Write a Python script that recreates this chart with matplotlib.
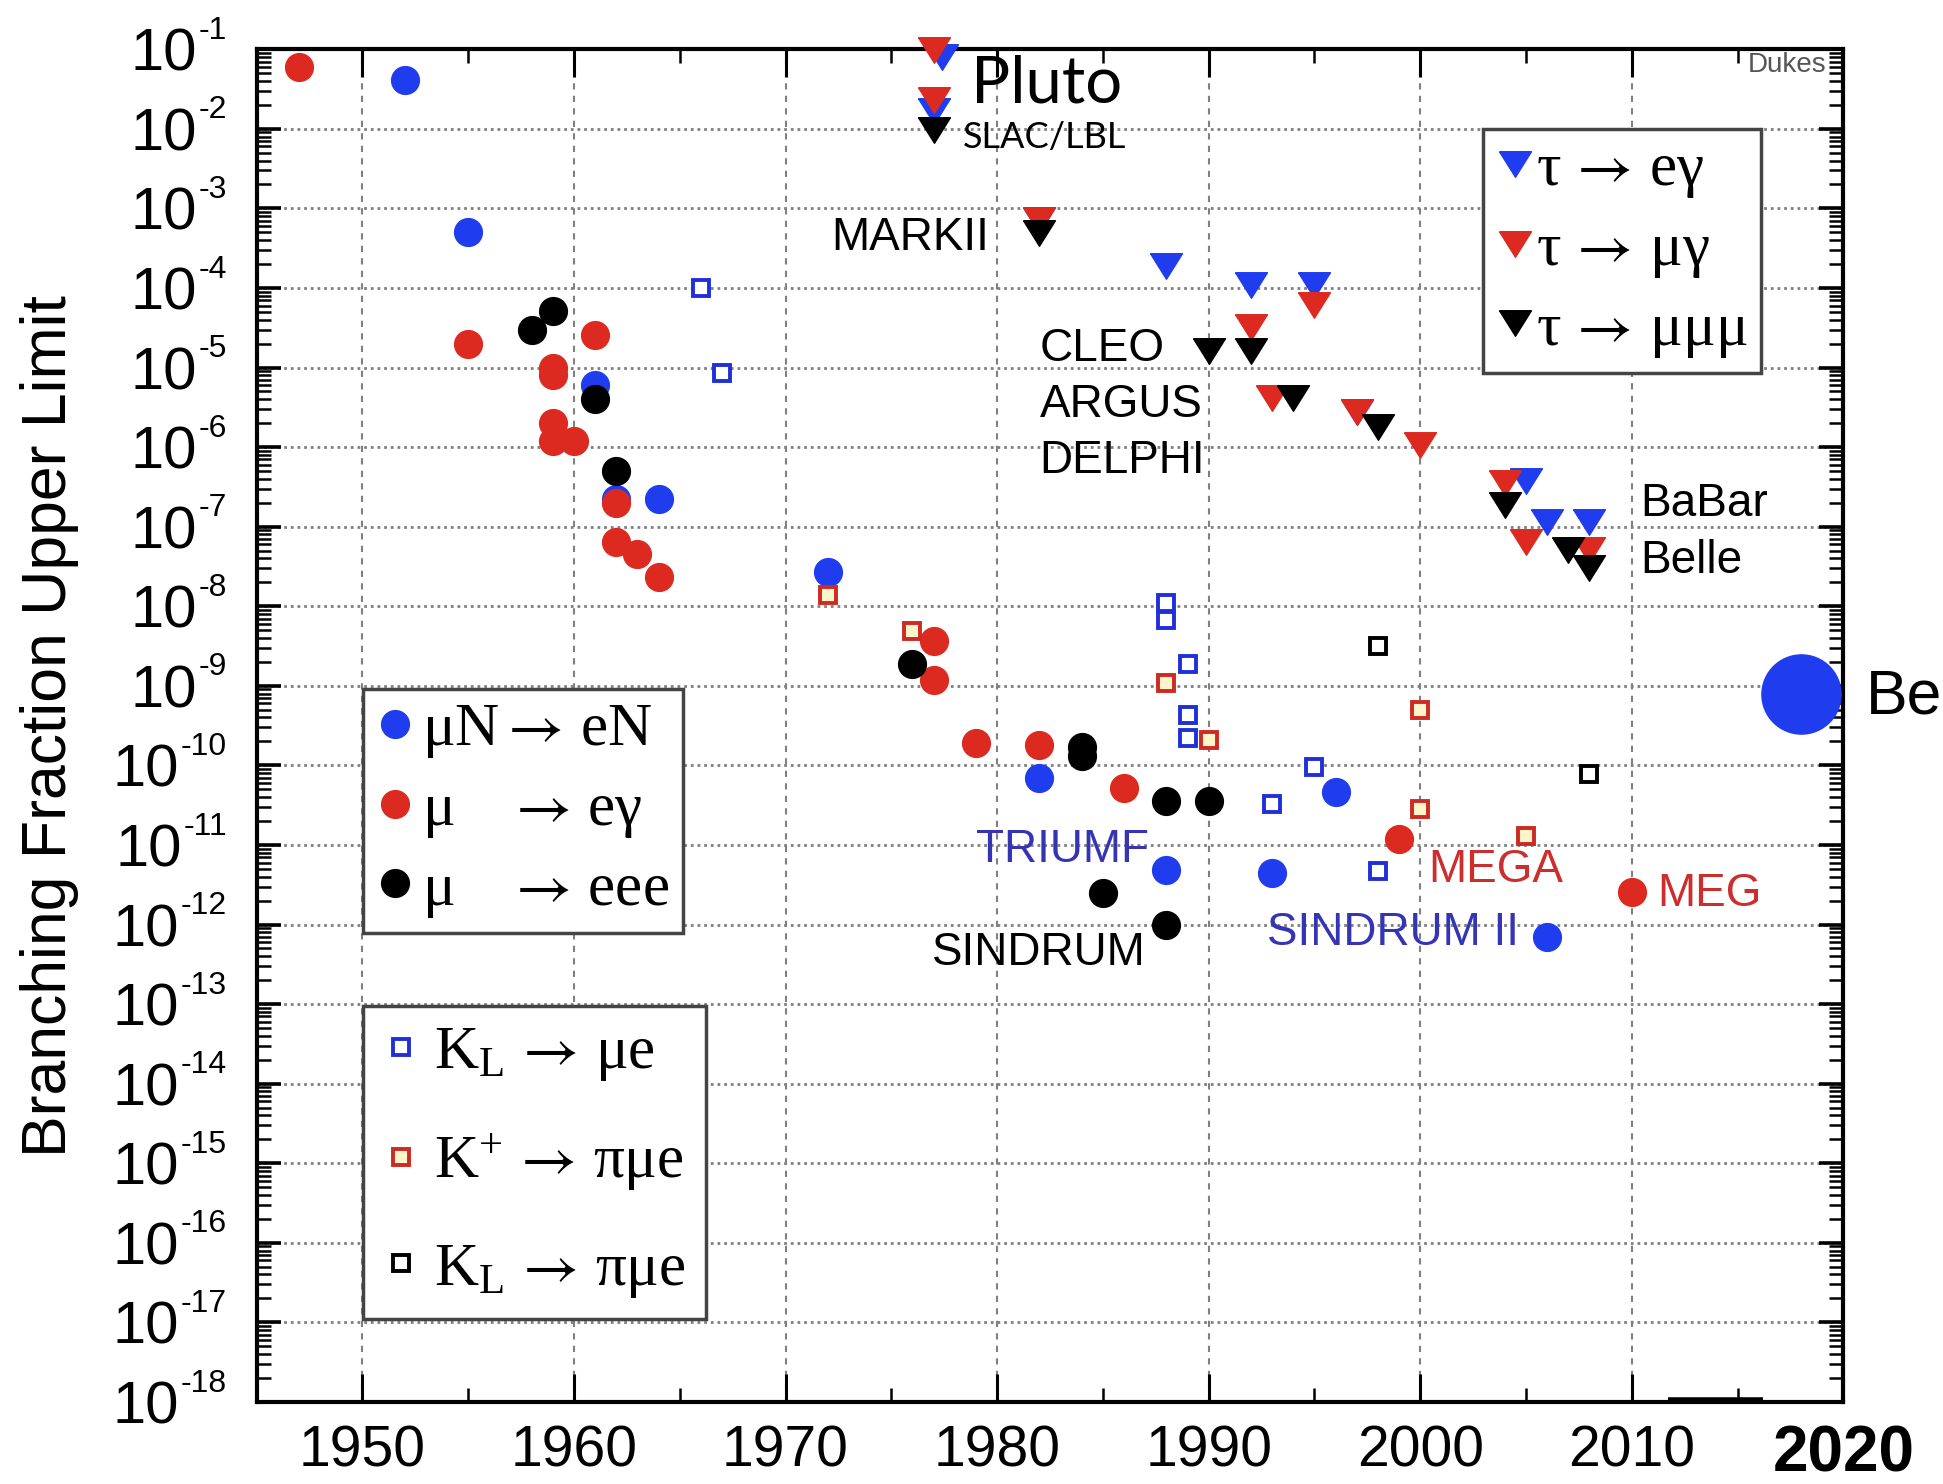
import numpy as np
import matplotlib
matplotlib.use('Agg')
import matplotlib.pyplot as plt
import matplotlib.transforms as mtransforms
from matplotlib.ticker import LogLocator, NullFormatter, MultipleLocator, FixedLocator

plt.rcParams['font.family'] = ['Liberation Sans', 'DejaVu Sans']
plt.rcParams['axes.unicode_minus'] = False
plt.rcParams['mathtext.fontset'] = 'stix'

# ---------------- data (year, branching-fraction upper limit) ----------------
muN_years = [1952, 1955, 1961, 1962, 1964, 1972, 1982, 1988, 1993, 1996, 2006]
muN_vals = [4.1e-2, 5e-4, 6e-6, 2.2e-7, 2.2e-7, 2.7e-8, 7e-11, 4.9e-12, 4.5e-12, 4.6e-11, 7e-13]
be_years = [2018]
be_vals = [8e-10]

mueg_years = [1947, 1955, 1959, 1959, 1959, 1959, 1960, 1961, 1962, 1962, 1963, 1964,
              1977, 1977, 1979, 1982, 1986, 1999, 2010]
mueg_vals = [6e-2, 2e-5, 1e-5, 8e-6, 2e-6, 1.2e-6, 1.2e-6, 2.6e-5, 2e-7, 6.5e-8, 4.5e-8, 2.3e-8,
             3.7e-9, 1.2e-9, 1.9e-10, 1.8e-10, 5.2e-11, 1.2e-11, 2.6e-12]

mueee_years = [1958, 1959, 1961, 1962, 1976, 1984, 1984, 1985, 1988, 1988, 1990]
mueee_vals = [3e-5, 5.2e-5, 4e-6, 5e-7, 1.9e-9, 1.7e-10, 1.3e-10, 2.5e-12, 3.6e-11, 1e-12, 3.6e-11]

klmue_years = [1966, 1967, 1988, 1988, 1989, 1989, 1989, 1993, 1995, 1998]
klmue_vals = [1e-4, 8.5e-6, 1.1e-8, 6.8e-9, 1.9e-9, 4.3e-10, 2.2e-10, 3.3e-11, 9.5e-11, 4.7e-12]

kppimue_years = [1972, 1976, 1988, 1990, 2000, 2000, 2005]
kppimue_vals = [1.4e-8, 4.9e-9, 1.1e-9, 2.1e-10, 5e-10, 2.8e-11, 1.3e-11]

klpimue_years = [1998, 2008]
klpimue_vals = [3.2e-9, 7.8e-11]

taueg_years = [1977.4, 1977, 1982, 1988, 1992, 1995, 1997, 2005, 2006, 2008]
taueg_vals = [7.9e-2, 1.7e-2, 7.1e-4, 1.9e-4, 1.1e-4, 1.1e-4, 2.8e-6, 3.7e-7, 1.15e-7, 1.15e-7]

taumg_years = [1977, 1977, 1982, 1992, 1993, 1995, 1997, 2000, 2004, 2005, 2008]
taumg_vals = [9.8e-2, 2.3e-2, 7.1e-4, 3.2e-5, 4.1e-6, 6.1e-5, 2.8e-6, 1.05e-6, 3.5e-7, 6.4e-8, 5.1e-8]

taummm_years = [1977, 1982, 1990, 1992, 1994, 1998, 2004, 2007, 2008]
taummm_vals = [9.7e-3, 4.9e-4, 1.6e-5, 1.6e-5, 4.1e-6, 1.8e-6, 1.85e-7, 5.1e-8, 3e-8]

# experiment labels: (text, year, value, colour, ha)
exp_labels = [
    ('MARKII', 1979.6, 4.2e-4, 'black', 'right'),
    ('CLEO', 1982.0, 1.7e-5, 'black', 'left'),
    ('ARGUS', 1982.0, 3.4e-6, 'black', 'left'),
    ('DELPHI', 1982.0, 6.6e-7, 'black', 'left'),
    ('BaBar', 2010.4, 1.94e-7, 'black', 'left'),
    ('Belle', 2010.4, 3.7e-8, 'black', 'left'),
    ('TRIUMF', 1979.0, 8.7e-12, '#3434b4', 'left'),
    ('SINDRUM', 1976.9, 4.4e-13, 'black', 'left'),
    ('SINDRUM II', 1992.75, 7.8e-13, '#3434b4', 'left'),
    ('MEGA', 2000.4, 4.9e-12, '#cc2e2e', 'left'),
    ('MEG', 2011.2, 2.4e-12, '#cc2e2e', 'left'),
]

x_ticks = [1950, 1960, 1970, 1980, 1990, 2000, 2010, 2020]
x_ticklabels = ['1950', '1960', '1970', '1980', '1990', '2000', '2010', '2020']
y_decades = list(range(1, 19))

BLUE = '#1f3cee'
RED = '#dc2a20'
BLACK = '#000000'

fig = plt.figure(figsize=(19.43, 14.84), dpi=100)
ax = fig.add_axes([0.1321, 0.0553, 0.8166, 0.9115])
ax.set_yscale('log')
ax.set_xlim(1945, 2020)
ax.set_ylim(1e-18, 1e-1)

tri = [(-1, 0.8), (1, 0.8), (0, -0.8), (-1, 0.8)]

# circles
h_muN, = ax.plot(muN_years, muN_vals, ls='none', marker='o', ms=20, mfc=BLUE, mec=BLUE, zorder=4,
                 label=r'μN$\rightarrow\,$eN')
ax.plot(be_years, be_vals, ls='none', marker='o', ms=57, mfc=BLUE, mec=BLUE, zorder=4)
h_mueg, = ax.plot(mueg_years, mueg_vals, ls='none', marker='o', ms=20, mfc=RED, mec=RED, zorder=4,
                  label=r'μ$\quad\,\rightarrow\,$eγ')
h_mueee, = ax.plot(mueee_years, mueee_vals, ls='none', marker='o', ms=20, mfc=BLACK, mec=BLACK, zorder=4,
                   label=r'μ$\quad\,\rightarrow\,$eee')

# squares
h_klmue, = ax.plot(klmue_years, klmue_vals, ls='none', marker='s', ms=12, mfc='white', mec='#2030d8',
                   mew=2.8, zorder=4, label=r'$\mathregular{K_{L}}\,\rightarrow\,$μe')
h_kppimue, = ax.plot(kppimue_years, kppimue_vals, ls='none', marker='s', ms=12, mfc='#fff4cc', mec='#cc2a22',
                     mew=2.8, zorder=4, label=r'$\mathregular{K^{+}}\,\rightarrow\,$πμe')
h_klpimue, = ax.plot(klpimue_years, klpimue_vals, ls='none', marker='s', ms=12, mfc='white', mec=BLACK,
                     mew=2.8, zorder=4, label=r'$\mathregular{K_{L}}\,\rightarrow\,$πμe')

# triangles
h_teg, = ax.plot(taueg_years, taueg_vals, ls='none', marker=tri, ms=23, mfc=BLUE, mec=BLUE, zorder=5,
                 clip_on=False, label=r'τ$\,\rightarrow\,$eγ')
h_tmg, = ax.plot(taumg_years, taumg_vals, ls='none', marker=tri, ms=23, mfc=RED, mec=RED, zorder=5,
                 clip_on=False, label=r'τ$\,\rightarrow\,$μγ')
h_tmmm, = ax.plot(taummm_years, taummm_vals, ls='none', marker=tri, ms=23, mfc=BLACK, mec=BLACK, zorder=5,
                  clip_on=False, label=r'τ$\,\rightarrow\,$μμμ')

# axes styling
for s in ax.spines.values():
    s.set_linewidth(3)
ax.set_xticks(x_ticks)
ax.set_xticklabels(x_ticklabels)
ax.xaxis.set_minor_locator(MultipleLocator(5))
ax.yaxis.set_major_locator(FixedLocator([10.0 ** (-k) for k in range(0, 19)]))
ax.yaxis.set_minor_locator(LogLocator(base=10, subs=np.arange(2, 10), numticks=200))
ax.yaxis.set_minor_formatter(NullFormatter())
ax.tick_params(which='both', direction='in', top=True, right=True)
ax.tick_params(axis='y', which='major', length=17, width=2.6, labelleft=False)
ax.tick_params(axis='y', which='minor', length=10, width=1.8)
ax.tick_params(axis='x', which='major', length=20, width=2.2, labelsize=41, pad=16)
ax.tick_params(axis='x', which='minor', length=10, width=1.8)
lab = ax.get_xticklabels()[-1]
lab.set_fontweight('bold')
lab.set_fontsize(46)

ax.set_axisbelow(True)
ax.grid(True, which='major', axis='y', ls=(0, (1, 1.4)), lw=2.0, color='#808080')
ax.grid(True, which='major', axis='x', ls=(0, (3, 3)), lw=1.5, color='#808080')

# y tick labels built as "10" + raised exponent
ytrans = mtransforms.blended_transform_factory(ax.transAxes, ax.transData)
off = mtransforms.ScaledTranslation(-21.4 / 72, 7.5 / 72, fig.dpi_scale_trans)
for k in y_decades:
    v = 10.0 ** (-k)
    e = ax.text(0, v, f'-{k}', transform=ytrans + off, ha='right', va='baseline', fontsize=23)
    ax.annotate('10', xy=(0, v), xycoords=(e, 'data'), xytext=(-1, -15.5), textcoords='offset points',
                ha='right', va='baseline', fontsize=43, annotation_clip=False)

fig.text(50 / 1943, 0.511, 'Branching Fraction Upper Limit', rotation=90, fontsize=45,
         ha='center', va='center')

# legends
serif = {'family': ['Liberation Serif', 'DejaVu Serif'], 'size': 44}
leg_kw = dict(frameon=True, fancybox=False, edgecolor='#444444', framealpha=1, borderaxespad=0,
              handlelength=0.6, prop=serif)
leg_tau = ax.legend(handles=[h_teg, h_tmg, h_tmmm], loc='upper left', bbox_to_anchor=(0.773, 0.941),
                    labelspacing=0.36, handletextpad=0.05, borderpad=0.22, **leg_kw)
leg_tau.get_frame().set_linewidth(2.5)
ax.add_artist(leg_tau)
leg_mu = ax.legend(handles=[h_muN, h_mueg, h_mueee], loc='upper left', bbox_to_anchor=(0.067, 0.527),
                   labelspacing=0.36, handletextpad=0.15, borderpad=0.22, **leg_kw)
leg_mu.get_frame().set_linewidth(2.5)
ax.add_artist(leg_mu)
leg_k = ax.legend(handles=[h_klmue, h_kppimue, h_klpimue], loc='upper left', bbox_to_anchor=(0.067, 0.293),
                  labelspacing=0.8, handletextpad=0.25, borderpad=0.32, **leg_kw)
leg_k.get_frame().set_linewidth(2.5)

# annotations
for txt, yr, val, col, ha in exp_labels:
    ax.text(yr, val, txt, color=col, fontsize=33, ha=ha, va='center', zorder=6)
ax.text(1978.75, 2.17e-2, 'Pluto', fontsize=47, family=['Lato', 'DejaVu Sans'], ha='left', va='baseline')
ax.text(1978.4, 5.8e-3, 'SLAC/LBL', fontsize=26, family=['Lato', 'DejaVu Sans'], ha='left', va='baseline')
ax.text(2021.06, 7.2e-10, 'Be', fontsize=45, ha='left', va='center', clip_on=False)
ax.text(2015.5, 6.3e-2, 'Dukes', fontsize=20, color='#555555', ha='left', va='center')
ax.plot([2011.7, 2016.2], [1.05e-18, 1.05e-18], color='black', lw=4, solid_capstyle='butt', clip_on=False)

fig.savefig('out.png', dpi=100)
